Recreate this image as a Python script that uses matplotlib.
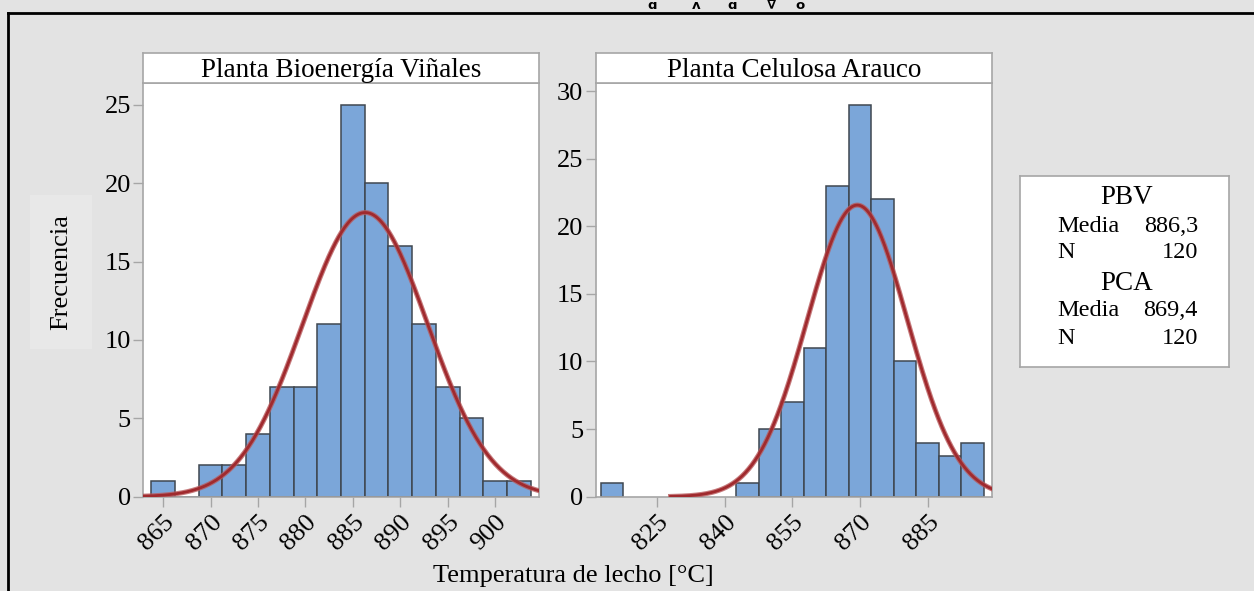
import numpy as np
import matplotlib
matplotlib.use('Agg')
import matplotlib.pyplot as plt

plt.rcParams['font.family'] = ['Liberation Serif', 'DejaVu Serif']

# ── data ─────────────────────────────────────────────────────────
pbv_centers = [865, 867.5, 870, 872.5, 875, 877.5, 880, 882.5, 885,
               887.5, 890, 892.5, 895, 897.5, 900, 902.5]
pbv_counts = [1, 0, 2, 2, 4, 7, 7, 11, 25, 20, 16, 11, 7, 5, 1, 1]
pbv_binw = 2.5
pbv_mean, pbv_sd, pbv_n = 886.3, 6.6, 120

pca_centers = [815, 845, 850, 855, 860, 865, 870, 875, 880, 885, 890, 895]
pca_counts = [1, 1, 5, 7, 11, 23, 29, 22, 10, 4, 3, 4]
pca_binw = 5.0
pca_mean, pca_sd, pca_n = 869.4, 11.1, 120

pbv_xticks = [865, 870, 875, 880, 885, 890, 895, 900]
pca_xticks = [825, 840, 855, 870, 885]
pbv_yticks = [0, 5, 10, 15, 20, 25]
pca_yticks = [0, 5, 10, 15, 20, 25, 30]

titles = ['Planta Bioenergía Viñales', 'Planta Celulosa Arauco']
top_glyphs = ['ɑ', 'ʌ', 'ɑ', '∇', 'o']

BG = '#e3e3e3'
BAR = '#7ba6d9'
EDGE = '#3f4750'
CURVE = '#a02a2e'
SPINE = '#a6a6a6'

W, H = 1254, 591
fig = plt.figure(figsize=(W / 100, H / 100), dpi=100, facecolor=BG)


def px_axes(x0, y0, x1, y1):
    return fig.add_axes([x0 / W, 1 - y1 / H, (x1 - x0) / W, (y1 - y0) / H])


def panel(x0, x1, centers, counts, binw, mean, sd, n, xlim, ylim,
          xticks, yticks, title, curve_from):
    ax = px_axes(x0, 83.3, x1, 496.7)
    ax.set_facecolor('white')
    ax.bar(centers, counts, width=binw, color=BAR, edgecolor=EDGE,
           linewidth=1.1, zorder=2)
    xs = np.linspace(max(curve_from, xlim[0]), xlim[1], 400)
    ys = n * binw / (sd * np.sqrt(2 * np.pi)) * np.exp(-0.5 * ((xs - mean) / sd) ** 2)
    ax.plot(xs, ys, color='#b85a5c', lw=3.6, zorder=3, alpha=0.8)
    ax.plot(xs, ys, color=CURVE, lw=2.0, zorder=3)
    ax.set_xlim(*xlim); ax.set_ylim(*ylim)
    ax.set_xticks(xticks); ax.set_yticks(yticks)
    ax.set_xticklabels([str(t) for t in xticks], rotation=45, ha='right',
                       va='top', rotation_mode='anchor')
    ax.tick_params(axis='both', colors=SPINE, labelcolor='black',
                   labelsize=19, length=7, width=1, direction='out')
    ax.tick_params(axis='x', pad=3)
    ax.tick_params(axis='y', pad=2)
    for s in ax.spines.values():
        s.set_color(SPINE); s.set_linewidth(1.2)
    # title strip
    st = px_axes(x0, 53.3, x1, 83.3)
    st.set_facecolor('white')
    st.set_xticks([]); st.set_yticks([])
    for s in st.spines.values():
        s.set_color(SPINE); s.set_linewidth(1.2)
    st.text(0.5, 0.42, title, ha='center', va='center', fontsize=19.5,
            transform=st.transAxes)
    return ax


panel(143.3, 539.3, pbv_centers, pbv_counts, pbv_binw, pbv_mean, pbv_sd, pbv_n,
      (862.9, 904.66), (0, 26.38), pbv_xticks, pbv_yticks, titles[0], 850)
panel(595.7, 991.7, pca_centers, pca_counts, pca_binw, pca_mean, pca_sd, pca_n,
      (811.4, 899.2), (0, 30.57), pca_xticks, pca_yticks, titles[1], 828)

# axis labels
fig.text(61 / W, 1 - 272 / H, 'Frecuencia', rotation=90, ha='center',
         va='center', fontsize=19,
         bbox=dict(facecolor='#e8e8e8', edgecolor='none', pad=14))
fig.text(573 / W, 1 - 576 / H, 'Temperatura de lecho [°C]', ha='center',
         va='center', fontsize=19)

# legend box
lg = px_axes(1020, 176, 1229, 367)
lg.set_facecolor('white')
lg.set_xticks([]); lg.set_yticks([])
for s in lg.spines.values():
    s.set_color(SPINE); s.set_linewidth(1.2)
rows = [('PBV', pbv_mean, pbv_n, 198), ('PCA', pca_mean, pca_n, 283)]
for name, m, nn, yc in rows:
    fig.text(1127 / W, 1 - yc / H, name, ha='center', va='center', fontsize=19.5)
    fig.text(1057 / W, 1 - (yc + 28) / H, 'Media', ha='left', va='center', fontsize=17.5)
    fig.text(1198 / W, 1 - (yc + 28) / H, f'{m:.1f}'.replace('.', ','),
             ha='right', va='center', fontsize=17.5)
    fig.text(1057 / W, 1 - (yc + 55) / H, 'N', ha='left', va='center', fontsize=17.5)
    fig.text(1198 / W, 1 - (yc + 55) / H, str(nn), ha='right', va='center', fontsize=17.5)

# outer frame (top and left black borders)
fig.add_artist(plt.Line2D([8 / W, 1], [1 - 13 / H, 1 - 13 / H], color='black',
                          lw=2, transform=fig.transFigure))
fig.add_artist(plt.Line2D([8 / W, 8 / W], [0, 1 - 13 / H], color='black',
                          lw=2, transform=fig.transFigure))
# small glyph artefact sitting on the frame line
for gx, g in zip([652, 696, 732, 772, 800], top_glyphs):
    fig.text(gx / W, 1 - 12 / H, g, ha='center', va='bottom',
             fontsize=9.5, family='DejaVu Sans', weight='bold')

fig.savefig('out.png', dpi=100, facecolor=BG)
